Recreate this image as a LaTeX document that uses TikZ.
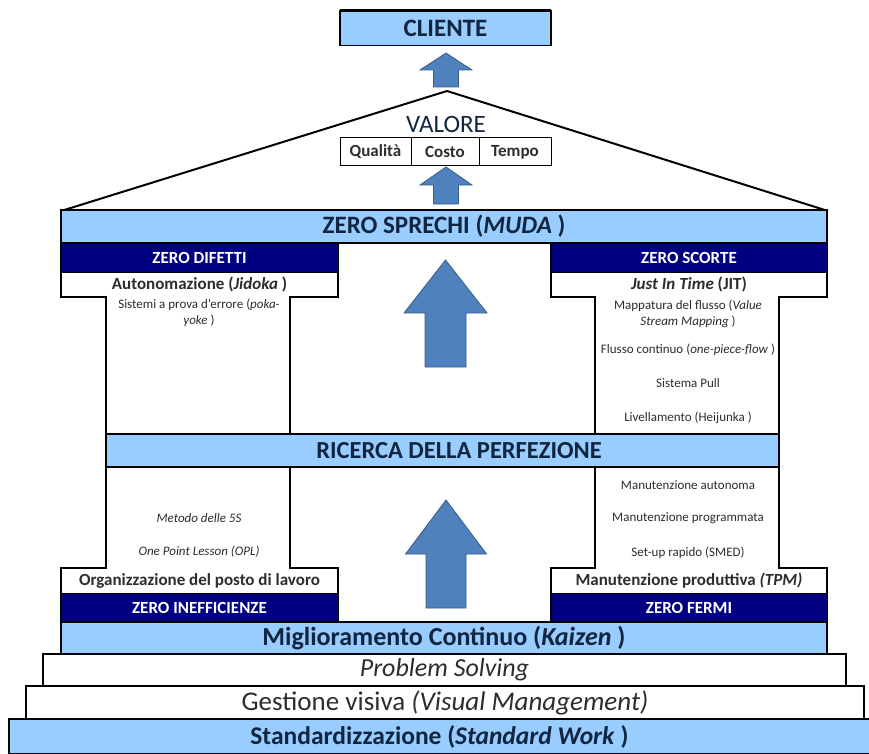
\documentclass[tikz,border=0pt]{standalone}
\usepackage{fontspec}
\setmainfont{Carlito}
\definecolor{lb}{RGB}{153,204,255}
\definecolor{navyb}{RGB}{0,0,128}
\definecolor{ablue}{RGB}{79,129,189}
\definecolor{adark}{RGB}{56,93,138}
\definecolor{tdark}{RGB}{16,37,63}
\definecolor{tgray}{RGB}{45,45,45}
\newcommand{\fsz}[1]{\fontsize{#1}{#1}\selectfont}
\newcommand{\housearrow}[6]{\filldraw[barrow] (#1,#2) -- (#1+#5,#3) -- (#1+#6,#3) -- (#1+#6,#4) -- (#1-#6,#4) -- (#1-#6,#3) -- (#1-#5,#3) -- cycle;}
\tikzset{
  barrow/.style={fill=ablue, draw=adark, line width=0.8pt, line join=miter},
  box/.style={inner sep=0pt, outer sep=0pt, anchor=center},
  lbband/.style={box, fill=lb, draw=black, line width=2pt, text=tdark},
  wband/.style={box, fill=white, draw=black, line width=2pt, text=tgray},
  nvband/.style={box, fill=navyb, draw=black, line width=1pt, text=white, font=\bfseries\fsz{17}},
  rowtext/.style={box, text=tgray, font=\bfseries\fsz{17}},
  pillar/.style={fill=white, draw=black, line width=2.5pt, line join=miter},
  small/.style={box, text=tgray, font=\fsz{13}, align=center},
  cell/.style={box, fill=white, draw=black, line width=1pt, text=tgray, font=\bfseries\fsz{17}, minimum height=28pt}
}
\begin{document}
\begin{tikzpicture}[x=1pt,y=-1pt]
\useasboundingbox (0,0) rectangle (869,754);
% roof
\draw[line width=2pt, line join=round] (61,211) -- (447,91) -- (828,211);
% top
\node[lbband, line width=1.6pt, minimum width=211pt, minimum height=35pt, font=\bfseries\fsz{25}] (cliente) at (445.5,28) {CLIENTE};
\draw[line width=3pt] (cliente.north west) -- (cliente.north east);
\housearrow{446}{53}{70}{87}{26}{12.5}
\node[box, font=\fsz{25}, text=tdark] (valore) at (446,124) {VALORE};
\node[cell, minimum width=71pt] (qual) at (375.5,152) {Qualità};
\node[cell, minimum width=68pt] (costo) at (445,152) {Costo};
\node[cell, minimum width=72pt] (tempo) at (515,152) {Tempo};
\housearrow{446}{167}{185}{204}{26}{12.5}
% upper pillars
\draw[pillar] (61,243) -- (338,243) -- (338,297) -- (290,297) -- (290,434) -- (106,434) -- (106,297) -- (61,297) -- cycle;
\draw[pillar] (551,243) -- (827,243) -- (827,297) -- (779,297) -- (779,434) -- (595,434) -- (595,297) -- (551,297) -- cycle;
\node[nvband, minimum width=277pt, minimum height=29pt] (zdif) at (199.5,257.5) {ZERO DIFETTI};
\node[nvband, minimum width=276pt, minimum height=29pt] (zsco) at (689,257.5) {ZERO SCORTE};
\node[rowtext] (jidoka) at (199.5,284) {Autonomazione (\textit{Jidoka} )};
\node[rowtext] (jit) at (689,284) {\textit{Just In Time} (JIT)};
\node[small] (poka) at (199,313) {Sistemi a prova d'errore (\textit{poka-}\\[3pt]\textit{yoke} )};
\node[small] (vsm) at (688,314) {Mappatura del flusso (\textit{Value}\\[3pt]\textit{Stream Mapping} )};
\node[small] (flow) at (688,350) {Flusso continuo (\textit{one-piece-flow} )};
\node[small] (pull) at (688,383) {Sistema Pull};
\node[small] (heij) at (688,418) {Livellamento (Heijunka )};
\housearrow{445.5}{260}{313}{367}{41.5}{20.5}
% lower pillars
\draw[pillar] (106,467) -- (290,467) -- (290,568) -- (338,568) -- (338,622) -- (61,622) -- (61,568) -- (106,568) -- cycle;
\draw[pillar] (595,467) -- (779,467) -- (779,568) -- (827,568) -- (827,622) -- (551,622) -- (551,568) -- (595,568) -- cycle;
\node[nvband, minimum width=277pt, minimum height=29pt] (zine) at (199.5,607.5) {ZERO INEFFICIENZE};
\node[nvband, minimum width=276pt, minimum height=29pt] (zfer) at (689,607.5) {ZERO FERMI};
\node[rowtext] (org) at (199.5,581) {Organizzazione del posto di lavoro};
\node[rowtext] (tpm) at (689,581) {Manutenzione produttiva \textit{(TPM)}};
\node[small, font=\itshape\fsz{13}] (ss) at (199,518) {Metodo delle 5S};
\node[small, font=\itshape\fsz{13}] (opl) at (199,552) {One Point Lesson (OPL)};
\node[small] (auto) at (688,485) {Manutenzione autonoma};
\node[small] (prog) at (688,518) {Manutenzione programmata};
\node[small] (smed) at (688,553) {Set-up rapido (SMED)};
\housearrow{446}{500}{554}{608}{40.5}{20}
% horizontal bands
\node[lbband, minimum width=766pt, minimum height=33pt, font=\bfseries\fsz{25}] (sprechi) at (444,226.5) {ZERO SPRECHI (\textit{MUDA} )};
\node[lbband, minimum width=673pt, minimum height=33pt] (ricerca) at (442.5,450.5) {};
\node[box, text=tdark, font=\bfseries\fsz{24.5}] (ricercat) at (459,450.5) {RICERCA DELLA PERFEZIONE};
\node[lbband, minimum width=766pt, minimum height=32pt, font=\bfseries\fsz{26}] (kaizen) at (444,638) {Miglioramento Continuo (\textit{Kaizen} )};
\node[wband, minimum width=803pt, minimum height=32pt, font=\itshape\fsz{26}] (ps) at (444.5,670) {Problem Solving};
\node[wband, minimum width=838pt, minimum height=33pt, font=\fsz{27}] (vm) at (445,702.5) {Gestione visiva \textit{(Visual Management)}};
\node[lbband, minimum width=861pt, minimum height=35pt, font=\bfseries\fsz{25.5}] (std) at (439.5,736.5) {Standardizzazione (\textit{Standard Work} )};
\end{tikzpicture}
\end{document}
